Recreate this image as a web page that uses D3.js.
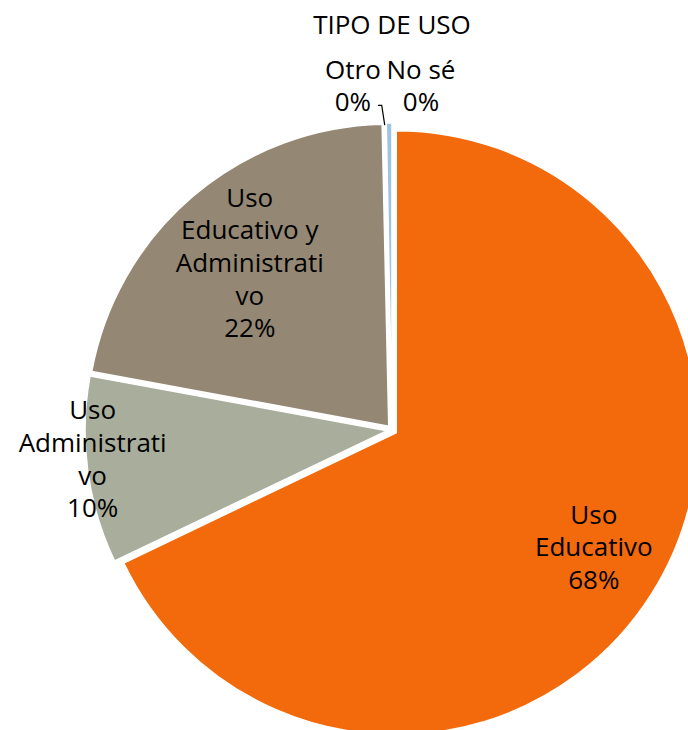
<!DOCTYPE html>
<html>
<head>
<meta charset="utf-8">
<script src="https://cdn.jsdelivr.net/npm/d3@7"></script>
<style>
  body { margin: 0; background: #fff; }
  svg { display: block; }
  text { font-family: "Open Sans", sans-serif; fill: #000; }
</style>
</head>
<body>
<div id="chart"></div>
<script>
// data
const categories = ["Uso Educativo", "Uso Administrativo", "Uso Educativo y Administrativo", "Otro", "No sé"];
const values = [67.9, 10.0, 21.75, 0.05, 0.3];
const percentLabels = ["68%", "10%", "22%", "0%", "0%"];
// wrapped label text as it appears on the chart
const labelLines = [
    ["Uso", "Educativo"],
    ["Uso", "Administrati", "vo"],
    ["Uso", "Educativo y", "Administrati", "vo"],
    ["Otro"],
    ["No sé"]
];
const colors = ["#F36A0C", "#A9AE9C", "#948875", "#7FA7D0", "#9DC3E6"];

const width = 688, height = 730;
const cx = 392, cy = 430, radius = 302, explode = 5;
const fontSize = 26, lineHeight = 32.7;

const svg = d3.select("#chart")
    .append("svg")
    .attr("width", width)
    .attr("height", height);

// title
svg.append("text")
    .attr("x", cx)
    .attr("y", 34)
    .attr("text-anchor", "middle")
    .style("font-size", fontSize + "px")
    .text("TIPO DE USO");

const pie = d3.pie().sort(null).value(d => d);
const arcs = pie(values);
const arc = d3.arc().innerRadius(0).outerRadius(radius);

function shift(d) {
    const mid = (d.startAngle + d.endAngle) / 2;
    return [explode * Math.sin(mid), -explode * Math.cos(mid)];
}

const g = svg.append("g").attr("transform", "translate(" + cx + "," + cy + ")");

// slices
g.selectAll(".slice")
    .data(arcs)
    .enter()
    .append("path")
    .attr("class", "slice")
    .attr("transform", d => "translate(" + shift(d) + ")")
    .attr("d", arc)
    .style("fill", (d, i) => colors[i])
    .style("stroke", "#fff")
    .style("stroke-width", 1.5);

// label placement: distance from centre as a share of the radius, plus a small nudge
const labelDist = [0.75, 0.97, 0.71];
const labelNudge = [[6, -6], [-4, -10], [0, 0]];

arcs.forEach(function(d, i) {
    const mid = (d.startAngle + d.endAngle) / 2;
    const s = shift(d);
    let lx, ly;
    if (i < 3) {
        lx = s[0] + labelDist[i] * radius * Math.sin(mid) + labelNudge[i][0];
        ly = s[1] - labelDist[i] * radius * Math.cos(mid) + labelNudge[i][1];
    } else {
        // small slices: labels sit above the pie, either side of the slice
        lx = s[0] + (i === 3 ? -39 : 29);
        ly = s[1] - radius - 37;
    }
    const lines = labelLines[i].concat([percentLabels[i]]);
    const n = lines.length;
    const t = g.append("text")
        .attr("text-anchor", "middle")
        .style("font-size", fontSize + "px");
    lines.forEach(function(line, k) {
        t.append("tspan")
            .attr("x", lx)
            .attr("y", ly + (k - (n - 1) / 2) * lineHeight + 9)
            .text(line);
    });

    // leader line for "Otro"
    if (i === 3) {
        const ex = s[0] + radius * Math.sin(mid) - 1;
        const ey = s[1] - radius * Math.cos(mid) + 2;
        const y0 = ly + lineHeight / 2 + 3;
        g.append("polyline")
            .attr("points", [[lx + 25, y0], [ex - 3, y0], [ex, ey]].map(p => p.join(",")).join(" "))
            .style("fill", "none")
            .style("stroke", "#000")
            .style("stroke-width", 1.2);
    }
});
</script>
</body>
</html>
